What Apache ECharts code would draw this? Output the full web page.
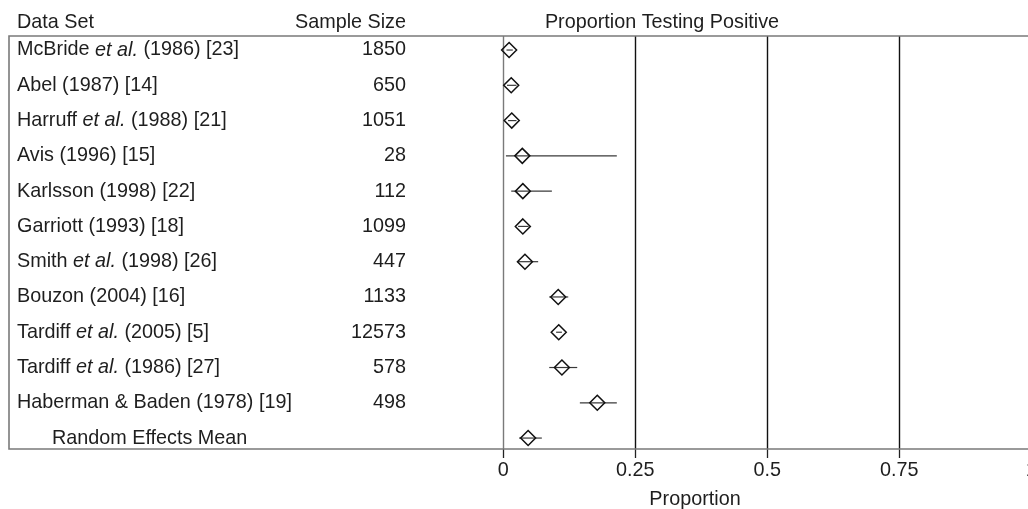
<!DOCTYPE html>
<html>
<head>
<meta charset="utf-8">
<script src="https://cdn.jsdelivr.net/npm/echarts@6/dist/echarts.min.js"></script>
<style>html,body{margin:0;padding:0;background:#fff}#c{width:1028px;height:509px}</style>
</head>
<body>
<div id="c"></div>
<script>
const dataSets = ['McBride et al. (1986) [23]', 'Abel (1987) [14]', 'Harruff et al. (1988) [21]', 'Avis (1996) [15]', 'Karlsson (1998) [22]', 'Garriott (1993) [18]', 'Smith et al. (1998) [26]', 'Bouzon (2004) [16]', 'Tardiff et al. (2005) [5]', 'Tardiff et al. (1986) [27]', 'Haberman & Baden (1978) [19]', 'Random Effects Mean'];
const sampleSizes = ['1850', '650', '1051', '28', '112', '1099', '447', '1133', '12573', '578', '498', ''];
const proportions = [0.011, 0.015, 0.016, 0.036, 0.037, 0.037, 0.041, 0.104, 0.105, 0.111, 0.178, 0.047];
const lowerCI = [0.006, 0.007, 0.009, 0.005, 0.015, 0.028, 0.026, 0.087, 0.100, 0.087, 0.145, 0.030];
const upperCI = [0.018, 0.025, 0.025, 0.215, 0.092, 0.048, 0.066, 0.123, 0.111, 0.140, 0.215, 0.073];
const headers = ['Data Set', 'Sample Size', 'Proportion Testing Positive'];
const xAxisTitle = 'Proportion';

const FONT = "'Liberation Sans', Arial, Helvetica, sans-serif";
const FS = 19.8;
const TXT = '#1e1e1e';
const rowIdx = dataSets.map((_, i) => i);

const chart = echarts.init(document.getElementById('c'), null, {renderer: 'canvas'});

function nameFormatter(v) {
  const i = dataSets.indexOf(v);
  if (i === dataSets.length - 1) return '{r|' + v + '}';
  const parts = v.split('et al.');
  if (parts.length === 2) return '{n|' + parts[0] + '}{i|et al.}{n|' + parts[1] + '}';
  return '{n|' + v + '}';
}

const PL = 503.3, PW = 528;

chart.setOption({
  animation: false,
  backgroundColor: '#fff',
  grid: [
    {left: PL, top: 36, width: PW, height: 413, containLabel: false, outerBoundsMode: 'none'},
    {left: PL, top: 32.4, width: PW, height: 423.3, containLabel: false, outerBoundsMode: 'none'}
  ],
  xAxis: [
    {
      gridIndex: 0, type: 'value', min: 0, max: 1, interval: 0.25,
      axisLine: {show: false},
      axisTick: {show: true, length: 9, lineStyle: {color: '#222', width: 1.3}},
      axisLabel: {margin: 12, fontSize: FS, fontFamily: FONT, color: TXT, hideOverlap: false},
      splitLine: {show: true, showMinLine: true, lineStyle: {color: ['#7a7a7a', '#111', '#111', '#111', '#111'], width: 1.4}}
    },
    {
      gridIndex: 1, type: 'value', min: 0, max: 1,
      show: false
    }
  ],
  yAxis: [
    {gridIndex: 0, type: 'value', show: false},
    {
      gridIndex: 1, type: 'category', inverse: true, data: dataSets, position: 'left', offset: 0,
      axisLine: {show: false}, axisTick: {show: false}, splitLine: {show: false},
      axisLabel: {
        align: 'left', margin: PL - 17, interval: 0,
        formatter: nameFormatter,
        rich: {
          n: {fontSize: FS, fontFamily: FONT, color: TXT},
          i: {fontSize: FS, fontFamily: FONT, color: TXT, fontStyle: 'italic'},
          r: {fontSize: FS, fontFamily: FONT, color: TXT, padding: [0, 0, 0, 35]}
        }
      }
    },
    {
      gridIndex: 1, type: 'category', inverse: true, position: 'left', offset: 0,
      data: sampleSizes.map((s, i) => s === '' ? ' ' + i : s),
      axisLine: {show: false}, axisTick: {show: false}, splitLine: {show: false},
      axisLabel: {
        align: 'right', margin: PL - 406, interval: 0,
        fontSize: FS, fontFamily: FONT, color: TXT,
        formatter: function (v) { return v.charAt(0) === ' ' ? '' : v; }
      }
    }
  ],
  graphic: [
    {type: 'rect', silent: true, shape: {x: 9, y: 36, width: 1040, height: 413}, style: {fill: 'none', stroke: '#7a7a7a', lineWidth: 1.6}, z: 10},
    {type: 'text', silent: true, style: {text: headers[0], x: 17, y: 23, textAlign: 'left', textVerticalAlign: 'middle', font: FS + 'px ' + FONT, fill: TXT}},
    {type: 'text', silent: true, style: {text: headers[1], x: 406, y: 23, textAlign: 'right', textVerticalAlign: 'middle', font: FS + 'px ' + FONT, fill: TXT}},
    {type: 'text', silent: true, style: {text: headers[2], x: 662, y: 23, textAlign: 'center', textVerticalAlign: 'middle', font: FS + 'px ' + FONT, fill: TXT}},
    {type: 'text', silent: true, style: {text: xAxisTitle, x: 695, y: 500, textAlign: 'center', textVerticalAlign: 'middle', font: FS + 'px ' + FONT, fill: TXT}}
  ],
  series: [
    {
      type: 'custom', xAxisIndex: 1, yAxisIndex: 1,
      data: rowIdx.map(i => [lowerCI[i], upperCI[i], i]),
      renderItem: function (params, api) {
        const a = api.coord([api.value(0), api.value(2)]);
        const b = api.coord([api.value(1), api.value(2)]);
        return {type: 'line', shape: {x1: a[0], y1: a[1], x2: b[0], y2: b[1]}, style: {stroke: '#3a3a3a', lineWidth: 1.2}};
      },
      z: 3
    },
    {
      type: 'scatter', xAxisIndex: 1, yAxisIndex: 1,
      data: rowIdx.map(i => [proportions[i], i]),
      symbol: 'diamond', symbolSize: [15, 15],
      itemStyle: {color: 'rgba(0,0,0,0)', borderColor: '#111', borderWidth: 1.5, opacity: 1},
      z: 4
    }
  ]
});
</script>
</body>
</html>
